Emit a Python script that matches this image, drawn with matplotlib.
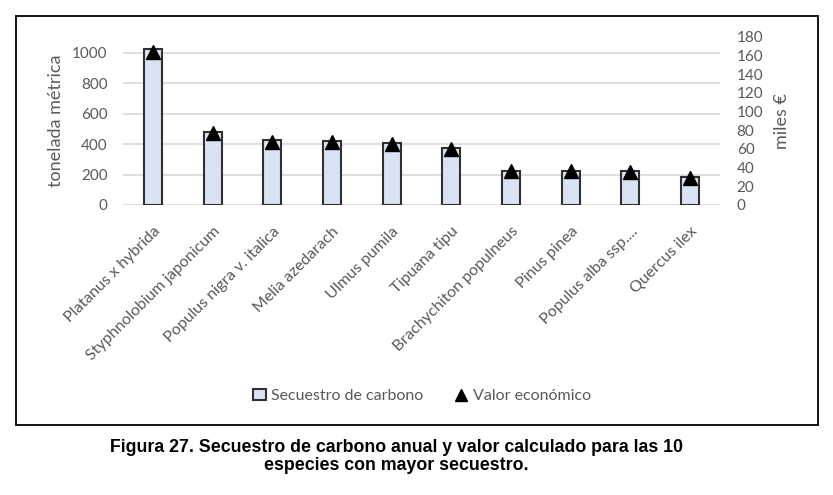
import matplotlib

matplotlib.use("Agg")
import matplotlib.pyplot as plt
from matplotlib.patches import Rectangle
from matplotlib.lines import Line2D

# data
especies = [
    "Platanus x hybrida", "Styphnolobium japonicum", "Populus nigra v. italica",
    "Melia azedarach", "Ulmus pumila", "Tipuana tipu", "Brachychiton populneus",
    "Pinus pinea", "Populus alba ssp....", "Quercus ilex",
]
secuestro_t = [1026, 480, 427, 421, 406, 377, 226, 226, 221, 182]   # tonelada métrica
valor_miles = [164, 77, 68, 67, 65, 60, 36, 36, 35, 29]            # miles €
left_ticks = [0, 200, 400, 600, 800, 1000]
right_ticks = list(range(0, 181, 20))

GREY = "#595959"
plt.rcParams["font.family"] = ["Lato", "DejaVu Sans"]

fig = plt.figure(figsize=(8.33, 4.95), dpi=100)
ax = fig.add_axes([123 / 833, 1 - 205 / 495, 597 / 833, 168 / 495])
ax2 = ax.twinx()

x = list(range(len(especies)))
ax.bar(x, secuestro_t, width=0.3, color="#DAE3F3", edgecolor="#303030",
       linewidth=1.5, zorder=3)
ax2.plot(x, valor_miles, linestyle="none", marker="^", markersize=10,
         color="black", zorder=4)

ax.set_xlim(-0.5, len(especies) - 0.5)
ax.set_ylim(0, 1105)
ax.set_yticks(left_ticks)
ax2.set_ylim(0, 180)
ax2.set_yticks(right_ticks)

ax.grid(axis="y", color="#D9D9D9", linewidth=1.2, zorder=0)
ax.set_axisbelow(True)
for a in (ax, ax2):
    for s in a.spines.values():
        s.set_visible(False)
    a.tick_params(length=0, labelsize=11, labelcolor=GREY)

ax.set_xticks(x)
ax.set_xticklabels(especies, rotation=45, ha="right", rotation_mode="anchor",
                   fontsize=11.5, color=GREY)
ax.tick_params(axis="x", pad=14)
ax.tick_params(axis="y", pad=11)
ax2.tick_params(axis="y", pad=12)

ax.set_ylabel("tonelada métrica", fontsize=13, color=GREY, labelpad=6)
ax2.set_ylabel("miles €", fontsize=13, color=GREY, labelpad=8)

handles = [
    Rectangle((0, 0), 1, 1, facecolor="#DAE3F3", edgecolor="#303030", linewidth=1.5),
    Line2D([], [], linestyle="none", marker="^", markersize=9, color="black"),
]
leg = fig.legend(handles, ["Secuestro de carbono", "Valor económico"],
                 loc="center", bbox_to_anchor=(422 / 833, 1 - 396 / 495),
                 ncol=2, frameon=False, fontsize=11.5, handlelength=0.8,
                 handletextpad=0.3, columnspacing=2.0)
for t in leg.get_texts():
    t.set_color(GREY)

# outer chart frame
fig.patches.append(Rectangle((16 / 833, 1 - 425 / 495), 802 / 833, 409 / 495,
                             transform=fig.transFigure, fill=False,
                             edgecolor="black", linewidth=1.3))

fig.text(396 / 833, 1 - 447 / 495,
         "Figura 27. Secuestro de carbono anual y valor calculado para las 10",
         ha="center", va="center", fontsize=12.8, fontweight="bold",
         family=["Liberation Sans", "DejaVu Sans"])
fig.text(396 / 833, 1 - 466 / 495, "especies con mayor secuestro.",
         ha="center", va="center", fontsize=12.8, fontweight="bold",
         family=["Liberation Sans", "DejaVu Sans"])

fig.savefig("out.png", dpi=100)
